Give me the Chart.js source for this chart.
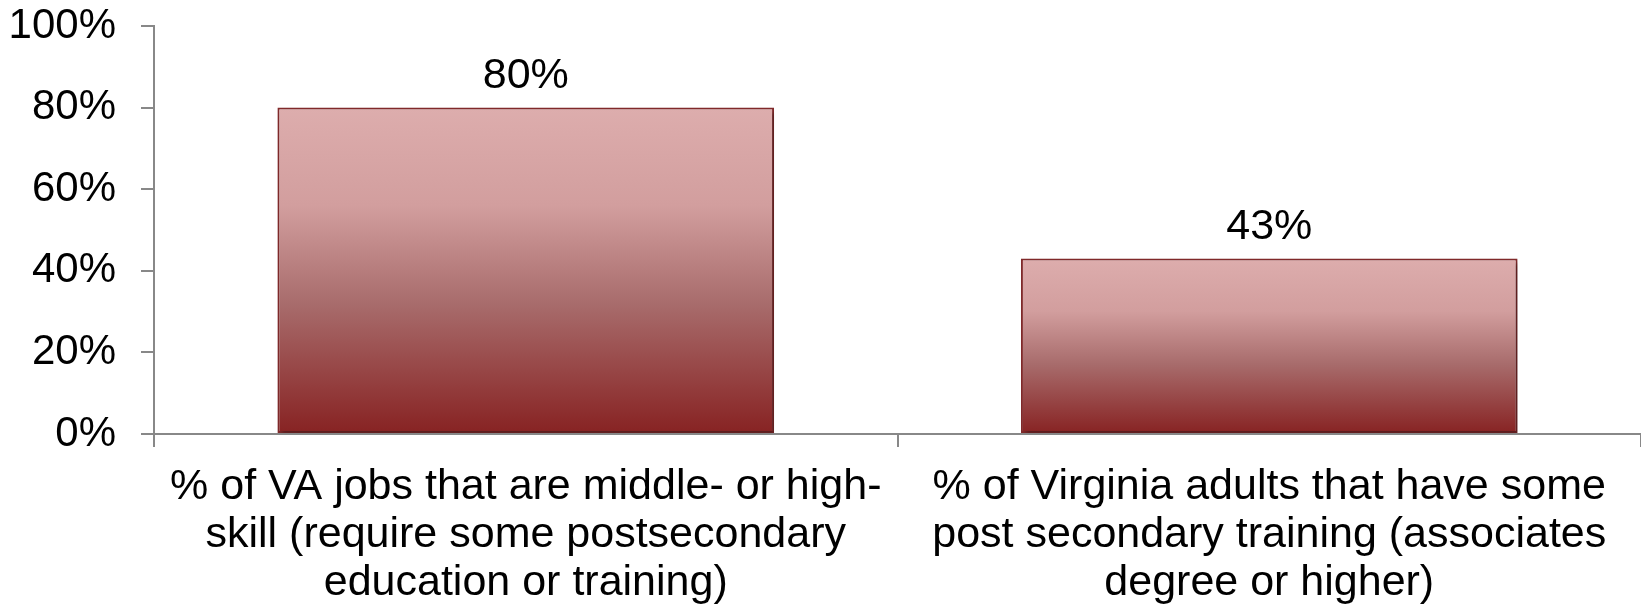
<!DOCTYPE html>
<html>
<head>
<meta charset="utf-8">
<script src="https://cdn.jsdelivr.net/npm/chart.js@4/dist/chart.umd.min.js"></script>
<style>
  html, body { margin: 0; padding: 0; background: #fff; }
  #wrap { width: 1641px; height: 606px; }
</style>
</head>
<body>
<div id="wrap"><canvas id="chart"></canvas></div>
<script>
// chart data
const categories = [
    ["% of VA jobs that are middle- or high-", "skill (require some postsecondary", "education or training)"],
    ["% of Virginia adults that have some", "post secondary training (associates", "degree or higher)"]
];
const values = [80, 43];
const yTicks = [0, 20, 40, 60, 80, 100];

const FONT = "'Liberation Sans', Arial, sans-serif";

// gradient per bar, from its top down to the baseline
const barGradient = (context) => {
    const chart = context.chart;
    const { ctx, chartArea, scales } = chart;
    if (!chartArea) return "#c08080";
    const v = context.raw;
    const top = scales.y.getPixelForValue(v);
    const bottom = scales.y.getPixelForValue(0);
    const g = ctx.createLinearGradient(0, top, 0, bottom);
    g.addColorStop(0, "rgb(221,173,173)");
    g.addColorStop(0.3, "rgb(210,158,158)");
    g.addColorStop(0.6, "rgb(168,108,108)");
    g.addColorStop(1, "rgb(135,34,34)");
    return g;
};

// soft shadow behind the bars
const barShadow = {
    id: "barShadow",
    beforeDatasetDraw(chart) {
        const ctx = chart.ctx;
        ctx.save();
        ctx.shadowColor = "rgba(0,0,0,0.3)";
        ctx.shadowOffsetX = 3;
        ctx.shadowOffsetY = 3;
        ctx.shadowBlur = 4;
    },
    afterDatasetDraw(chart) {
        chart.ctx.restore();
    }
};

// value labels above each bar
const valueLabels = {
    id: "valueLabels",
    afterDatasetsDraw(chart) {
        const ctx = chart.ctx;
        const meta = chart.getDatasetMeta(0);
        ctx.save();
        ctx.font = "43px " + FONT;
        ctx.fillStyle = "#000";
        ctx.textAlign = "center";
        ctx.textBaseline = "bottom";
        meta.data.forEach((bar, i) => {
            ctx.fillText(values[i] + "%", bar.x, bar.y - 10);
        });
        ctx.restore();
    }
};

new Chart(document.getElementById("chart"), {
    type: "bar",
    data: {
        labels: categories,
        datasets: [{
            data: values,
            backgroundColor: barGradient,
            borderColor: "#80292a",
            borderWidth: 2,
            borderSkipped: false,
            categoryPercentage: 0.668,
            barPercentage: 1
        }]
    },
    options: {
        responsive: true,
        maintainAspectRatio: false,
        animation: false,
        layout: { padding: 0 },
        plugins: {
            legend: { display: false },
            tooltip: { enabled: false }
        },
        scales: {
            x: {
                afterFit: (axis) => {
                    axis.height = 172;
                    axis.paddingLeft = 0;
                    axis.paddingRight = 0;
                },
                grid: {
                    drawOnChartArea: false,
                    color: "#888",
                    tickLength: 13,
                    lineWidth: 2
                },
                border: { color: "#888", width: 2 },
                ticks: {
                    color: "#000",
                    font: { family: FONT, size: 43, lineHeight: 1.12 },
                    maxRotation: 0,
                    autoSkip: false,
                    padding: 16
                }
            },
            y: {
                min: 0,
                max: 100,
                afterBuildTicks: (axis) => {
                    axis.ticks = yTicks.map(v => ({ value: v }));
                },
                afterFit: (axis) => {
                    axis.width = 154;
                    axis.paddingTop = 26;
                    axis.paddingBottom = 0;
                },
                grid: {
                    drawOnChartArea: false,
                    color: "#888",
                    tickLength: 13,
                    lineWidth: 2
                },
                border: { color: "#888", width: 2 },
                ticks: {
                    color: "#000",
                    font: { family: FONT, size: 42 },
                    padding: 25,
                    callback: (v) => v + "%"
                }
            }
        }
    },
    plugins: [barShadow, valueLabels]
});
</script>
</body>
</html>
